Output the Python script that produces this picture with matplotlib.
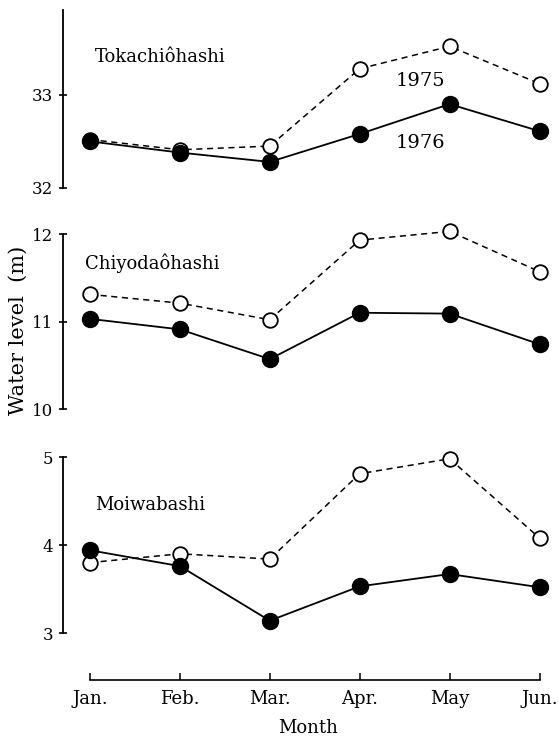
import matplotlib
matplotlib.use("Agg")
import matplotlib.pyplot as plt

# month labels along the shared x axis
months = ["Jan.", "Feb.", "Mar.", "Apr.", "May", "Jun."]

# water level (m), one pair of series per gauging station
stations = ["Tokachiôhashi", "Chiyodaôhashi", "Moiwabashi"]
toka_1975 = [32.52, 32.41, 32.45, 33.28, 33.52, 33.12]
toka_1976 = [32.50, 32.38, 32.28, 32.58, 32.90, 32.61]
chiyo_1975 = [11.31, 11.21, 11.02, 11.93, 12.03, 11.57]
chiyo_1976 = [11.03, 10.91, 10.57, 11.10, 11.09, 10.74]
moiwa_1975 = [3.80, 3.90, 3.84, 4.81, 4.98, 4.08]
moiwa_1976 = [3.94, 3.76, 3.14, 3.53, 3.67, 3.52]

plt.rcParams["font.family"] = ["DejaVu Serif"]

W, H = 559, 742
fig = plt.figure(figsize=(W / 100, H / 100), dpi=100)


# turn pixel box into figure fraction
def box(top_px, bottom_px):
    left = 63 / W
    width = (553 - 63) / W
    return [left, 1 - bottom_px / H, width, (bottom_px - top_px) / H]


# (values 1975, values 1976, ylim, ticks, axis box px, name x px, name y px)
panels = [
    (toka_1975, toka_1976, (32, 33.91), [32, 33], (10, 188), 95, 57),
    (chiyo_1975, chiyo_1976, (10, 12), [10, 11, 12], (234, 409), 85, 263),
    (moiwa_1975, moiwa_1976, (3, 5), [3, 4, 5], (457, 633), 95, 505),
]

x = list(range(len(months)))

for i, (v75, v76, ylim, ticks, (tp, bp), name_x, name_y) in enumerate(panels):
    ax = fig.add_axes(box(tp, bp))
    ax.plot(x, v75, color="black", lw=1.1, ls=(0, (4, 3)), marker="o",
            ms=10.5, mfc="white", mec="black", mew=1.3, clip_on=False, zorder=3)
    ax.plot(x, v76, color="black", lw=1.3, marker="o",
            ms=11.5, mfc="black", mec="black", clip_on=False, zorder=4)
    ax.set_xlim(-0.3, 5.15)
    ax.set_ylim(*ylim)
    ax.set_yticks(ticks)
    ax.set_yticklabels([str(t) for t in ticks], fontsize=12)
    for s in ["top", "right"]:
        ax.spines[s].set_visible(False)
    ax.spines["left"].set_linewidth(1.3)
    ax.tick_params(axis="y", direction="inout", length=6, width=1.2, pad=4)
    ax.text((name_x - 63) / 490, 1 - (name_y - tp) / (bp - tp), stations[i],
            transform=ax.transAxes, fontsize=13, va="center", ha="left")
    if i < 2:
        ax.spines["bottom"].set_visible(False)
        ax.set_xticks([])
    else:
        # x axis sits 47 px below the panel (0.72 pt per px)
        ax.spines["bottom"].set_position(("outward", 47 * 0.72))
        ax.spines["bottom"].set_bounds(0, 5)
        ax.spines["bottom"].set_linewidth(1.2)
        ax.set_xticks(x)
        ax.set_xticklabels(months, fontsize=13)
        ax.tick_params(axis="x", direction="in", length=5, width=1.1, pad=7)
        ax.set_xlabel("Month", fontsize=13, labelpad=8)
    if i == 0:
        ax.text(3.4, 33.15, "1975", fontsize=14, va="center", ha="left")
        ax.text(3.4, 32.48, "1976", fontsize=14, va="center", ha="left")

fig.text(18 / W, 1 - 330 / H, "Water level  (m)", rotation=90, fontsize=15,
         ha="center", va="center")

fig.savefig("out.png", dpi=100, facecolor="white")
